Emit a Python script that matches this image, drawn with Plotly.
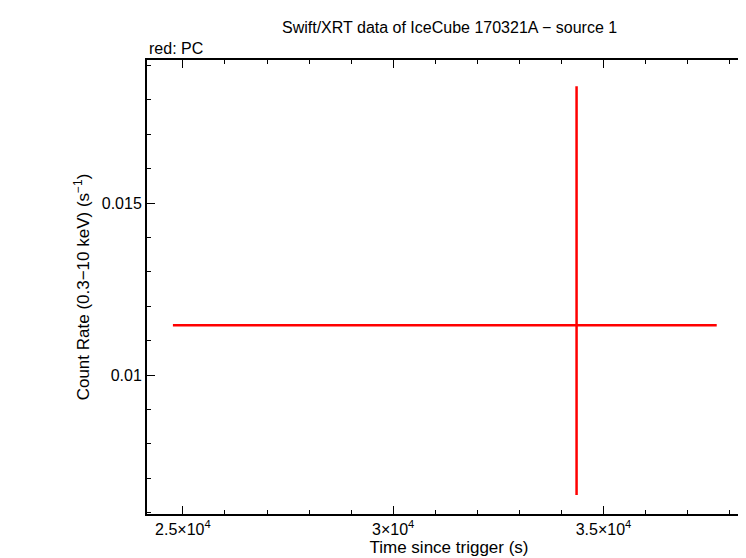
import plotly.graph_objects as go

x = [34360]
x_lo = [34360 - 24763]
x_hi = [37692 - 34360]
y = [0.01145]
y_lo = [0.01145 - 0.00651]
y_hi = [0.01840 - 0.01145]

fig = go.Figure(go.Scatter(
    x=x, y=y, mode="markers", marker=dict(size=1, color="red"),
    error_x=dict(type="data", symmetric=False, array=x_hi, arrayminus=x_lo, color="red", thickness=2.5, width=0),
    error_y=dict(type="data", symmetric=False, array=y_hi, arrayminus=y_lo, color="red", thickness=2.5, width=0),
))
axis_common = dict(showgrid=False, zeroline=False, showline=True, linecolor="black", linewidth=2,
                   mirror="allticks", ticks="inside", ticklen=8, tickcolor="black", automargin=False,
                   tickfont=dict(size=16, color="black"))
fig.update_xaxes(range=[24147, 38507], tickvals=[25000, 30000, 35000],
                 ticktext=["2.5×10<sup>4</sup>", "3×10<sup>4</sup>", "3.5×10<sup>4</sup>"],
                 minor=dict(ticks="inside", ticklen=4, dtick=1000, tickcolor="black"),
                 title=dict(text="Time since trigger (s)", font=dict(size=17, color="black"), standoff=4),
                 **axis_common)
fig.update_yaxes(range=[0.00596, 0.01916], tickvals=[0.01, 0.015], ticktext=["0.01", "0.015"],
                 minor=dict(ticks="inside", ticklen=4, dtick=0.001, tickcolor="black"),
                 title=dict(text="Count Rate (0.3−10 keV) (s<sup>−1</sup>)", font=dict(size=17, color="black"), standoff=8),
                 **axis_common)
fig.update_layout(
    width=746, height=558, plot_bgcolor="white", paper_bgcolor="white",
    font=dict(family="Liberation Sans, Arial, sans-serif"),
    margin=dict(l=139, r=3, t=52, b=52, autoexpand=False), showlegend=False,
    annotations=[
        dict(text="Swift/XRT data of IceCube 170321A − source 1", x=0.5, y=1, xref="paper", yref="paper",
             xanchor="center", yanchor="bottom", yshift=22, showarrow=False, font=dict(size=16, color="black")),
        dict(text="red: PC", x=0, y=1, xref="paper", yref="paper", xanchor="left", yanchor="bottom",
             yshift=1, showarrow=False, font=dict(size=16, color="black")),
    ],
)
fig.write_html("out.html")
